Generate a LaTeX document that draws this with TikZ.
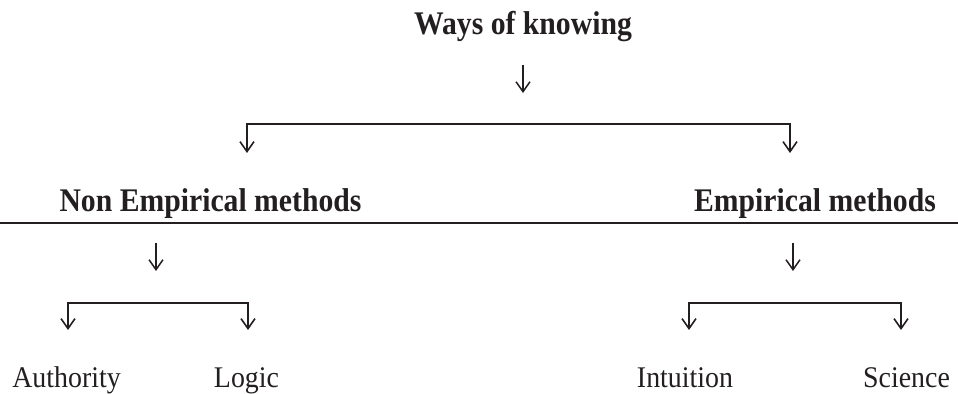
\documentclass[tikz,border=0pt]{standalone}
\usepackage{fontspec}
\setmainfont{Liberation Serif}
\newfontfamily\narrowserif{Liberation Serif}[FakeStretch=0.93]
\newfontfamily\headserif{Liberation Serif}[FakeStretch=0.90]
\usetikzlibrary{arrows.meta}
\definecolor{ink}{HTML}{231F20}
\tikzset{
  head/.style = {font=\fontsize{16.5}{19}\selectfont\headserif\bfseries, text=ink, anchor=base, inner sep=0pt},
  leaf/.style = {font=\fontsize{15}{18}\selectfont\narrowserif, text=ink, anchor=base, inner sep=0pt},
  flow/.style = {-{Straight Barb[length=5pt, width=7pt]}, line width=0.75pt, draw=ink},
  fork/.style = {{Straight Barb[length=5pt, width=7pt]}-{Straight Barb[length=5pt, width=7pt]},
                 line width=0.8pt, draw=ink, line join=miter},
  rule/.style = {line width=1pt, draw=ink},
}

\begin{document}
\begin{tikzpicture}[x=0.5pt, y=-0.5pt]
  \useasboundingbox (0,0) rectangle (958,394);
  % titles
  \node[head] (ways)   at (523,35)    {Ways of knowing};
  \node[head] (nonemp) at (210.5,212) {Non Empirical methods};
  \node[head] (emp)    at (815,212)   {Empirical methods};
  % leaves
  \node[leaf] (auth)  at (66.5,388)  {Authority};
  \node[leaf] (logic) at (246.5,388) {Logic};
  \node[leaf] (intu)  at (685,388)   {Intuition};
  \node[leaf] (sci)   at (906.5,388) {Science};
  % arrow ends
  \coordinate (w0) at (523,65);   \coordinate (w1) at (523,93);
  \coordinate (n0) at (156,243);  \coordinate (n1) at (156,271);
  \coordinate (e0) at (793,243);  \coordinate (e1) at (793,271);
  \coordinate (fa) at (247,124);  \coordinate (fb) at (790,124);
  \coordinate (fn) at (68,303);   \coordinate (fl) at (248,303);
  \coordinate (fi) at (689,303);  \coordinate (fs) at (901,303);
  \coordinate (ruleL) at (0,223); \coordinate (ruleR) at (958,223);
  % top level
  \draw[flow] (w0) -- (w1);
  \draw[fork] (fa |- 0,153) -- (fa) -- (fb) -- (fb |- 0,153);
  \draw[rule] (ruleL) -- (ruleR);
  % second level
  \draw[flow] (n0) -- (n1);
  \draw[flow] (e0) -- (e1);
  \draw[fork] (fn |- 0,330) -- (fn) -- (fl) -- (fl |- 0,330);
  \draw[fork] (fi |- 0,330) -- (fi) -- (fs) -- (fs |- 0,330);
\end{tikzpicture}
\end{document}
